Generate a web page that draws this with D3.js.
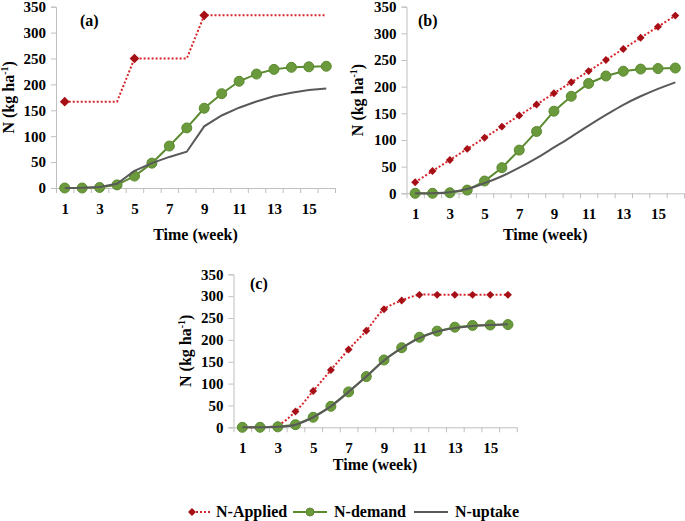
<!DOCTYPE html>
<html>
<head>
<meta charset="utf-8">
<script src="https://cdn.jsdelivr.net/npm/d3@7"></script>
<style>
  html, body { margin: 0; padding: 0; background: #fff; }
  svg { display: block; }
  text { font-family: "Liberation Serif", "Times New Roman", serif; font-weight: bold; fill: #000; }
</style>
</head>
<body>
<svg width="685" height="521"></svg>
<script>
/* ===============================
   Data
   =============================== */
let weeks = [1, 2, 3, 4, 5, 6, 7, 8, 9, 10, 11, 12, 13, 14, 15, 16];
let weekLabels = [1, 3, 5, 7, 9, 11, 13, 15];
let yTicks = [0, 50, 100, 150, 200, 250, 300, 350];

// N-demand is the same in all three panels
let demand = [0, 0, 1, 6, 23, 48, 81, 116, 154, 182, 206, 220, 229, 233, 234, 235];

let appliedA = [166.7, 166.7, 166.7, 166.7, 250, 250, 250, 250, 333.3, 333.3, 333.3, 333.3, 333.3, 333.3, 333.3, 333.3];
let appliedMarksA = [1, 5, 9];
let uptakeA = [0, 0.5, 2, 8, 33, 48, 60, 70, 119, 140, 155, 167, 177, 184, 189, 192];

let appliedB = [20.8, 41.7, 62.5, 83.3, 104.2, 125, 145.8, 166.7, 187.5, 208.3, 229.2, 250, 270.8, 291.7, 312.5, 333.3];
let uptakeB = [0, 0, 2, 8, 19, 32, 48, 66, 86, 106, 127, 147, 166, 182, 196, 208];

let appliedC = [0, 0, 5, 36, 83, 131, 178, 221, 270, 290, 303, 303, 303, 303, 303, 303];
let uptakeC = [0, 0, 1, 6, 23, 48, 81, 116, 153, 181, 204, 219, 227, 232, 234, 236];

let legendNames = ["N-Applied", "N-demand", "N-uptake"];

/* ===============================
   Styles
   =============================== */
let axisColor = "#bfbfbf";
let redLine = "#d7262b";
let redMark = "#a50f15";
let greenLine = "#5b8a30";
let greenFill = "#6a9a3c";
let grayLine = "#595959";

let svg = d3.select("svg");

let panels = [
    { label: "(a)", applied: appliedA, marks: appliedMarksA, uptake: uptakeA, smooth: false,
      xr: [56, 335], yr: [188, 6.7], labelX: 80, labelY: 26, yTitleX: 14, xTitleY: 240, diamond: 60 },
    { label: "(b)", applied: appliedB, marks: weeks, uptake: uptakeB, smooth: true,
      xr: [406.5, 684], yr: [193.3, 6.7], labelX: 418, labelY: 26, yTitleX: 363, xTitleY: 240, diamond: 40 },
    { label: "(c)", applied: appliedC, marks: weeks, uptake: uptakeC, smooth: true,
      xr: [233.5, 516.8], yr: [427.3, 274.3], labelX: 250, labelY: 289, yTitleX: 191, xTitleY: 470, diamond: 40 }
];

panels.forEach(function (p) {
    let g = svg.append("g");

    let x = d3.scaleLinear().domain([0.5, 16.5]).range(p.xr);
    let y = d3.scaleLinear().domain([0, 350]).range(p.yr);

    /* ---- y axis ---- */
    let yAxis = g.append("g")
        .attr("transform", "translate(" + p.xr[0] + ",0)")
        .call(d3.axisLeft(y).tickValues(yTicks).tickSize(5).tickPadding(5));
    yAxis.select(".domain").attr("stroke", axisColor);
    yAxis.selectAll(".tick line").attr("stroke", axisColor);
    yAxis.selectAll(".tick text").attr("font-size", 15).attr("font-family", null);

    /* ---- x axis: ticks at category edges, labels every other week ---- */
    let xTickAxis = g.append("g")
        .attr("transform", "translate(0," + p.yr[0] + ")")
        .call(d3.axisBottom(x).tickValues(weeks.map(w => w - 0.5).concat([16.5])).tickSize(5).tickFormat("").tickSizeOuter(0));
    xTickAxis.select(".domain").attr("stroke", axisColor);
    xTickAxis.selectAll(".tick line").attr("stroke", axisColor);

    let xLabelAxis = g.append("g")
        .attr("transform", "translate(0," + p.yr[0] + ")")
        .call(d3.axisBottom(x).tickValues(weekLabels).tickSize(0).tickPadding(15));
    xLabelAxis.select(".domain").remove();
    xLabelAxis.selectAll(".tick text").attr("font-size", 15).attr("font-family", null);

    /* ---- titles ---- */
    g.append("text")
        .attr("x", (p.xr[0] + p.xr[1]) / 2)
        .attr("y", p.xTitleY)
        .attr("text-anchor", "middle")
        .attr("font-size", 16)
        .text("Time (week)");

    let yt = g.append("text")
        .attr("transform", "translate(" + p.yTitleX + "," + ((p.yr[0] + p.yr[1]) / 2) + ") rotate(-90)")
        .attr("text-anchor", "middle")
        .attr("font-size", 16);
    yt.append("tspan").text("N (kg ha");
    yt.append("tspan").attr("font-size", 10).attr("dy", -6).text("-1");
    yt.append("tspan").attr("dy", 6).text(")");

    g.append("text")
        .attr("x", p.labelX)
        .attr("y", p.labelY)
        .attr("font-size", 16)
        .text(p.label);

    /* ---- N-Applied (dotted red) ---- */
    let lineLin = d3.line().x((d, i) => x(weeks[i])).y(d => y(d));
    let lineSmooth = d3.line().x((d, i) => x(weeks[i])).y(d => y(d)).curve(d3.curveCatmullRom.alpha(0.5));

    g.append("path")
        .attr("d", p.smooth ? lineSmooth(p.applied) : lineLin(p.applied))
        .attr("fill", "none")
        .attr("stroke", redLine)
        .attr("stroke-width", 2)
        .attr("stroke-dasharray", "2,2");

    g.selectAll(".applied-mark")
        .data(p.marks)
        .enter().append("path")
        .attr("d", d3.symbol().type(d3.symbolDiamond2).size(p.diamond))
        .attr("transform", d => "translate(" + x(d) + "," + y(p.applied[d - 1]) + ")")
        .attr("fill", redMark);

    /* ---- N-demand (green with circles) ---- */
    g.append("path")
        .attr("d", lineLin(demand))
        .attr("fill", "none")
        .attr("stroke", greenLine)
        .attr("stroke-width", 2);

    g.selectAll(".demand-dot")
        .data(demand)
        .enter().append("circle")
        .attr("cx", (d, i) => x(weeks[i]))
        .attr("cy", d => y(d))
        .attr("r", 5)
        .attr("fill", greenFill)
        .attr("stroke", greenLine)
        .attr("stroke-width", 1);

    /* ---- N-uptake (gray) ---- */
    g.append("path")
        .attr("d", p.smooth ? lineSmooth(p.uptake) : lineLin(p.uptake))
        .attr("fill", "none")
        .attr("stroke", grayLine)
        .attr("stroke-width", 2);
});

/* ===============================
   Legend
   =============================== */
let legY = 512;
let leg = svg.append("g");

leg.append("line").attr("x1", 192).attr("x2", 210).attr("y1", legY).attr("y2", legY)
    .attr("stroke", redLine).attr("stroke-width", 2).attr("stroke-dasharray", "2,2");
leg.append("path").attr("d", d3.symbol().type(d3.symbolDiamond2).size(40))
    .attr("transform", "translate(192," + legY + ")").attr("fill", redMark);
leg.append("text").attr("x", 216).attr("y", legY + 5).attr("font-size", 16).text(legendNames[0]);

leg.append("line").attr("x1", 293).attr("x2", 327).attr("y1", legY).attr("y2", legY)
    .attr("stroke", greenLine).attr("stroke-width", 2);
leg.append("circle").attr("cx", 310).attr("cy", legY).attr("r", 4)
    .attr("fill", greenFill).attr("stroke", greenLine);
leg.append("text").attr("x", 334).attr("y", legY + 5).attr("font-size", 16).text(legendNames[1]);

leg.append("line").attr("x1", 414).attr("x2", 448).attr("y1", legY).attr("y2", legY)
    .attr("stroke", grayLine).attr("stroke-width", 2);
leg.append("text").attr("x", 455).attr("y", legY + 5).attr("font-size", 16).text(legendNames[2]);
</script>
</body>
</html>
